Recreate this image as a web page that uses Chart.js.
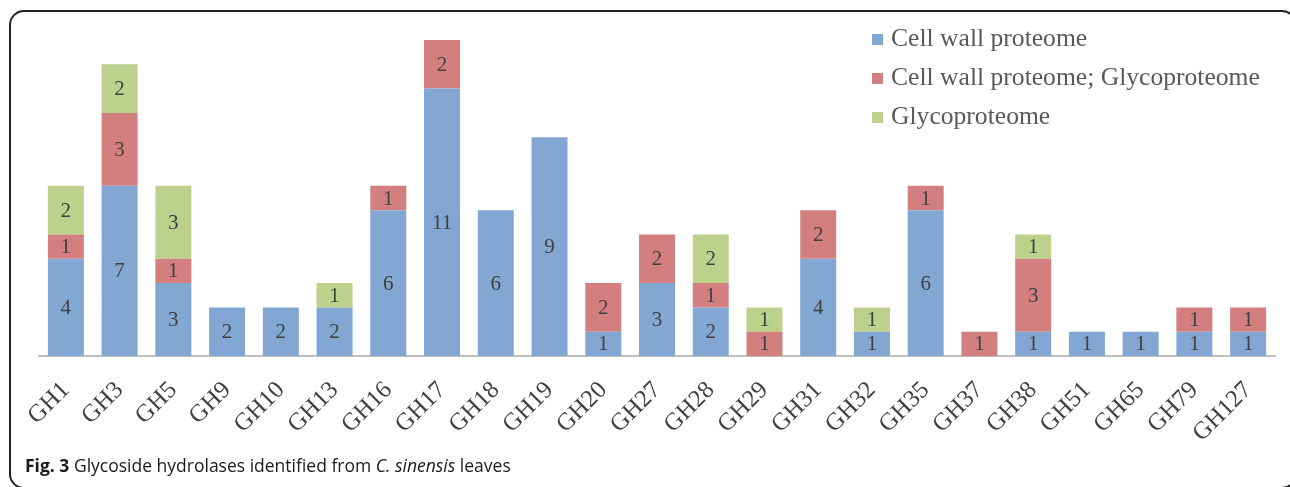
<!DOCTYPE html>
<html>
<head>
<meta charset="utf-8">
<script src="https://cdn.jsdelivr.net/npm/chart.js@4"></script>
<style>
  html, body { margin: 0; padding: 0; background: #fff; }
  #wrap { position: relative; width: 1290px; height: 487px; overflow: hidden; }
  #frame {
    position: absolute; left: 9px; top: 10px; width: 1288px; height: 479px;
    box-sizing: border-box; border: 2px solid #222; border-radius: 15px;
  }
  #chartBox { position: absolute; left: 0; top: 0; width: 1290px; height: 487px; }
  #legend {
    position: absolute; left: 872px; top: 18px;
    font-family: "Liberation Serif", "Times New Roman", serif; font-size: 25.6px; color: #595959;
  }
  #legend div { height: 39px; line-height: 39px; white-space: nowrap; }
  #legend span.box { display: inline-block; width: 11px; height: 11px; margin-right: 8px; vertical-align: 1px; }
  #caption {
    position: absolute; left: 25px; top: 453px;
    font-family: "Open Sans", sans-serif; font-size: 17.5px; color: #1a1a1a; white-space: nowrap;
  }
</style>
</head>
<body>
<div id="wrap">
  <div id="frame"></div>
  <div id="chartBox"><canvas id="myChart"></canvas></div>
  <div id="legend"></div>
  <div id="caption"><b>Fig. 3</b> Glycoside hydrolases identified from <i>C. sinensis</i> leaves</div>
</div>
<script>
// families on the x axis
var families = ['GH1', 'GH3', 'GH5', 'GH9', 'GH10', 'GH13', 'GH16', 'GH17', 'GH18', 'GH19', 'GH20',
  'GH27', 'GH28', 'GH29', 'GH31', 'GH32', 'GH35', 'GH37', 'GH38', 'GH51', 'GH65', 'GH79', 'GH127'];

// counts per source
var cellWall     = [4, 7, 3, 2, 2, 2, 6, 11, 6, 9, 1, 3, 2, 0, 4, 1, 6, 0, 1, 1, 1, 1, 1];
var cellWallGlyco = [1, 3, 1, 0, 0, 0, 1, 2, 0, 0, 2, 2, 1, 1, 2, 0, 1, 1, 3, 0, 0, 1, 1];
var glyco        = [2, 2, 3, 0, 0, 1, 0, 0, 0, 0, 0, 0, 2, 1, 0, 1, 0, 0, 1, 0, 0, 0, 0];

var seriesNames = ['Cell wall proteome', 'Cell wall proteome; Glycoproteome', 'Glycoproteome'];
var seriesColors = ['#83a7d3', '#d47f7f', '#bcd28c'];

// draw the value in the middle of each segment
var segmentLabels = {
  id: 'segmentLabels',
  afterDatasetsDraw: function(chart) {
    var ctx = chart.ctx;
    ctx.save();
    ctx.fillStyle = '#404040';
    ctx.font = '21px "Liberation Serif", serif';
    ctx.textAlign = 'center';
    ctx.textBaseline = 'middle';
    chart.data.datasets.forEach(function(ds, i) {
      var meta = chart.getDatasetMeta(i);
      meta.data.forEach(function(bar, j) {
        var v = ds.data[j];
        if (!v) return;
        var p = bar.getProps(['x', 'y', 'base'], true);
        ctx.fillText(String(v), p.x, (p.y + p.base) / 2 + 1);
      });
    });
    ctx.restore();
  }
};

var allSeries = [cellWall, cellWallGlyco, glyco];

const data = {
  labels: families,
  datasets: allSeries.map(function(vals, i) {
    return {
      label: seriesNames[i],
      data: vals,
      backgroundColor: seriesColors[i],
      borderWidth: 0,
      categoryPercentage: 1.0,
      barPercentage: 0.67
    };
  })
};

const config = {
  type: 'bar',
  data: data,
  plugins: [segmentLabels],
  options: {
    responsive: true,
    maintainAspectRatio: false,
    animation: false,
    layout: { padding: { left: 39, right: 15, top: 40, bottom: 0 } },
    plugins: { legend: { display: false }, tooltip: { enabled: false } },
    scales: {
      x: {
        stacked: true,
        grid: { display: false, drawTicks: false },
        border: { display: true, color: '#bfbfbf', width: 2 },
        ticks: {
          color: '#404040',
          font: { family: '"Liberation Serif", serif', size: 24.5 },
          minRotation: 45,
          maxRotation: 45,
          padding: 20
        },
        afterFit: function(scale) { scale.height = 131; }
      },
      y: {
        stacked: true,
        display: false,
        min: 0,
        max: 13
      }
    }
  }
};

// legend as html
var legendEl = document.getElementById('legend');
seriesNames.forEach(function(name, i) {
  var row = document.createElement('div');
  row.innerHTML = '<span class="box" style="background:' + seriesColors[i] + '"></span>' + name;
  legendEl.appendChild(row);
});

const myChart = new Chart(document.getElementById('myChart'), config);
</script>
</body>
</html>
